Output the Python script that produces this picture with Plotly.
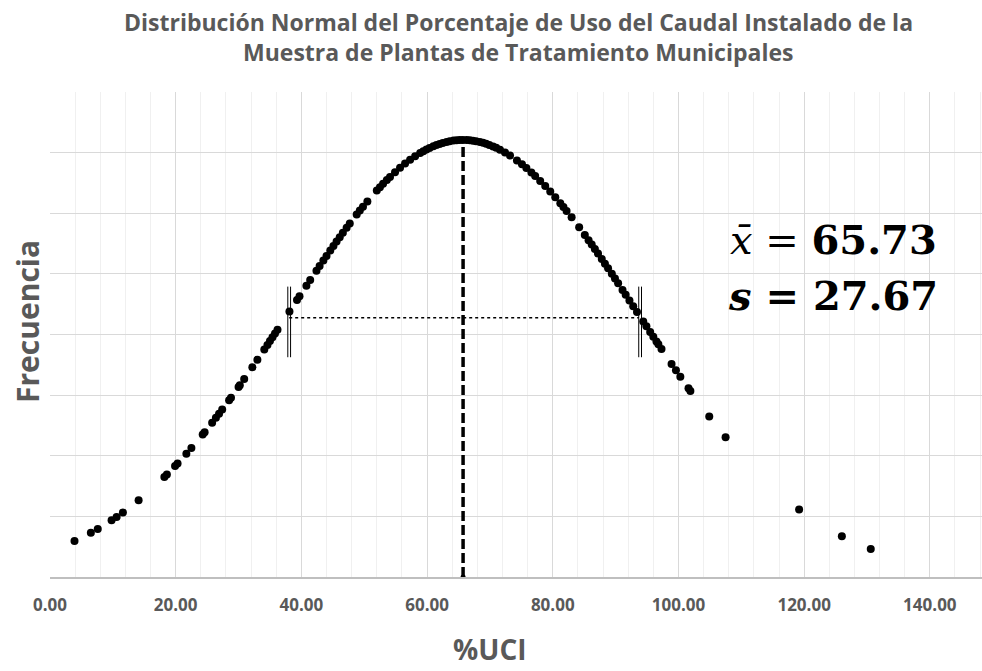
import plotly.graph_objects as go

# Sample values of %UCI (x) and their normal density (y)
uci = [3.9, 6.5, 7.6, 9.8, 10.6, 11.6, 14.1, 18.2, 18.6, 19.9, 20.3, 21.7, 22.5, 24.3, 24.6,
       25.8, 26.4, 26.9, 27.4, 28.5, 28.8, 30.0, 30.2, 30.9, 32.2, 33.0, 34.1, 34.6, 35.0,
       35.4, 35.8, 36.2, 38.1, 39.3, 39.7, 40.8, 41.4, 42.4, 42.9, 43.5, 44.0, 44.6, 45.1,
       45.6, 46.1, 46.6, 47.2, 47.7, 48.8, 49.3, 49.8, 50.5, 52.0, 52.5, 53.0, 53.6, 54.1,
       54.9, 55.7, 56.5, 57.3, 58.1, 58.9, 59.4, 59.9, 60.4, 61.0, 61.5, 62.0, 62.5, 63.1,
       63.6, 64.2, 64.7, 65.2, 65.7, 66.3, 66.8, 67.3, 67.8, 68.4, 68.9, 69.4, 69.9, 70.5,
       71.0, 71.6, 72.4, 73.2, 74.3, 75.1, 75.8, 76.6, 77.2, 78.0, 78.8, 79.6, 80.4, 81.2,
       81.7, 82.2, 83.0, 84.2, 85.1, 85.7, 86.2, 86.7, 87.2, 87.8, 88.3, 88.8, 89.4, 89.9,
       90.4, 91.1, 91.6, 92.2, 92.8, 93.4, 94.4, 94.9, 95.5, 96.0, 96.5, 96.8, 97.3, 98.9,
       99.6, 100.3, 101.6, 101.9, 104.9, 107.5, 119.2, 126.0, 130.6]

frecuencia = [0.001187, 0.001459, 0.001587, 0.001870, 0.001981, 0.002128, 0.002529, 0.003297,
              0.003380, 0.003658, 0.003746, 0.004065, 0.004255, 0.004700, 0.004777, 0.005090,
              0.005250, 0.005386, 0.005524, 0.005832, 0.005917, 0.006264, 0.006322, 0.006529,
              0.006920, 0.007163, 0.007502, 0.007657, 0.007782, 0.007907, 0.008032, 0.008158,
              0.008758, 0.009137, 0.009262, 0.009608, 0.009795, 0.010104, 0.010258, 0.010442,
              0.010592, 0.010772, 0.010920, 0.011066, 0.011210, 0.011353, 0.011522, 0.011660,
              0.011957, 0.012088, 0.012216, 0.012391, 0.012748, 0.012861, 0.012970, 0.013097,
              0.013200, 0.013355, 0.013501, 0.013638, 0.013765, 0.013880, 0.013985, 0.014046,
              0.014101, 0.014153, 0.014209, 0.014251, 0.014287, 0.014320, 0.014353, 0.014375,
              0.014396, 0.014408, 0.014415, 0.014418, 0.014415, 0.014407, 0.014395, 0.014378,
              0.014351, 0.014324, 0.014292, 0.014255, 0.014205, 0.014159, 0.014097, 0.014005,
              0.013902, 0.013743, 0.013615, 0.013494, 0.013347, 0.013231, 0.013068, 0.012895,
              0.012716, 0.012527, 0.012332, 0.012206, 0.012078, 0.011867, 0.011539, 0.011286,
              0.011113, 0.010968, 0.010820, 0.010672, 0.010490, 0.010338, 0.010185, 0.010001,
              0.009846, 0.009690, 0.009471, 0.009313, 0.009124, 0.008936, 0.008745, 0.008430,
              0.008272, 0.008084, 0.007927, 0.007770, 0.007677, 0.007521, 0.007030, 0.006818,
              0.006608, 0.006224, 0.006137, 0.005293, 0.004614, 0.002228, 0.001345, 0.000923]

media = 65.73
desv = 27.67
pico = 0.014418
nivel_sd = 0.00855
barra_lo, barra_hi = 0.00725, 0.00958
x_ticks = [0, 20, 40, 60, 80, 100, 120, 140]
x_tick_labels = ["0.00", "20.00", "40.00", "60.00", "80.00", "100.00", "120.00", "140.00"]

gray = "#595959"
font_fam = "Open Sans"

fig = go.Figure()

# mean line (dashed)
fig.add_trace(go.Scatter(x=[media, media], y=[0, pico], mode="lines",
                         line=dict(color="black", width=3.5, dash="10px,4px"),
                         hoverinfo="skip", showlegend=False))
fig.add_trace(go.Scatter(x=[media], y=[0], mode="markers",
                         marker=dict(color="black", size=5), showlegend=False))
# +/- 1 sd dotted line
fig.add_trace(go.Scatter(x=[media - desv, media + desv + 0.3], y=[nivel_sd, nivel_sd], mode="lines",
                         line=dict(color="black", width=1.5, dash="dot"),
                         hoverinfo="skip", showlegend=False))
# double bars at +/- 1 sd
for xb in [media - desv, media + desv + 0.5]:
    for off in (-0.22, 0.22):
        fig.add_trace(go.Scatter(x=[xb + off, xb + off], y=[barra_lo, barra_hi], mode="lines",
                                 line=dict(color="black", width=1), hoverinfo="skip",
                                 showlegend=False))

# sample points
fig.add_trace(go.Scatter(x=uci, y=frecuencia, mode="markers",
                         marker=dict(color="black", size=8), showlegend=False))

# white box behind statistics
fig.add_shape(type="rect", x0=104.7, x1=144.8, y0=0.00831, y1=0.01217,
              fillcolor="white", line=dict(width=0), layer="below")

fig.add_annotation(x=124.6, y=0.01112, text="<i>x̄</i> = <b>65.73</b>", showarrow=False,
                   font=dict(family="DejaVu Serif", size=40, color="black"))
fig.add_annotation(x=124.6, y=0.00930, text="<b><i>s</i> = 27.67</b>", showarrow=False,
                   font=dict(family="DejaVu Serif", size=40, color="black"))

# title
fig.add_annotation(xref="paper", yref="paper", x=(518 - 50) / 932, y=1, yshift=70, yanchor="middle",
                   text="<b>Distribución Normal del Porcentaje de Uso del Caudal Instalado de la</b>",
                   showarrow=False, font=dict(family=font_fam, size=23, color=gray))
fig.add_annotation(xref="paper", yref="paper", x=(518 - 50) / 932, y=1, yshift=40, yanchor="middle",
                   text="<b>Muestra de Plantas de Tratamiento Municipales</b>",
                   showarrow=False, font=dict(family=font_fam, size=23, color=gray))
# axis titles
fig.add_annotation(xref="paper", yref="paper", x=(490 - 50) / 932, y=0, yshift=-72,
                   yanchor="middle", text="<b>%UCI</b>", showarrow=False,
                   font=dict(family=font_fam, size=28, color=gray))
fig.add_annotation(xref="paper", yref="paper", x=0, xshift=-23, xanchor="center",
                   y=(577 - 322) / 485, yanchor="middle",
                   text="<b>Frecuencia</b>", textangle=-90, showarrow=False,
                   font=dict(family=font_fam, size=30, color=gray))

fig.update_layout(
    width=982, height=671,
    margin=dict(l=50, r=0, t=92, b=94),
    paper_bgcolor="white", plot_bgcolor="white",
    xaxis=dict(range=[0, 148.3], tickvals=x_ticks,
               ticktext=["<b>" + t + "</b>" for t in x_tick_labels],
               showgrid=True, gridcolor="#d9d9d9", gridwidth=1,
               minor=dict(dtick=4, tick0=0, showgrid=True, gridcolor="#f0f0f0", gridwidth=1),
               showline=True, linecolor="#bfbfbf", linewidth=1.5, zeroline=False,
               ticks="outside", ticklen=12, tickcolor="rgba(0,0,0,0)",
               tickfont=dict(family=font_fam, size=17, color=gray)),
    yaxis=dict(range=[0, 0.016], dtick=0.002, showticklabels=False,
               showgrid=True, gridcolor="#d9d9d9", gridwidth=1, zeroline=False,
               showline=False, ticks=""),
)

fig.write_html("out.html")
